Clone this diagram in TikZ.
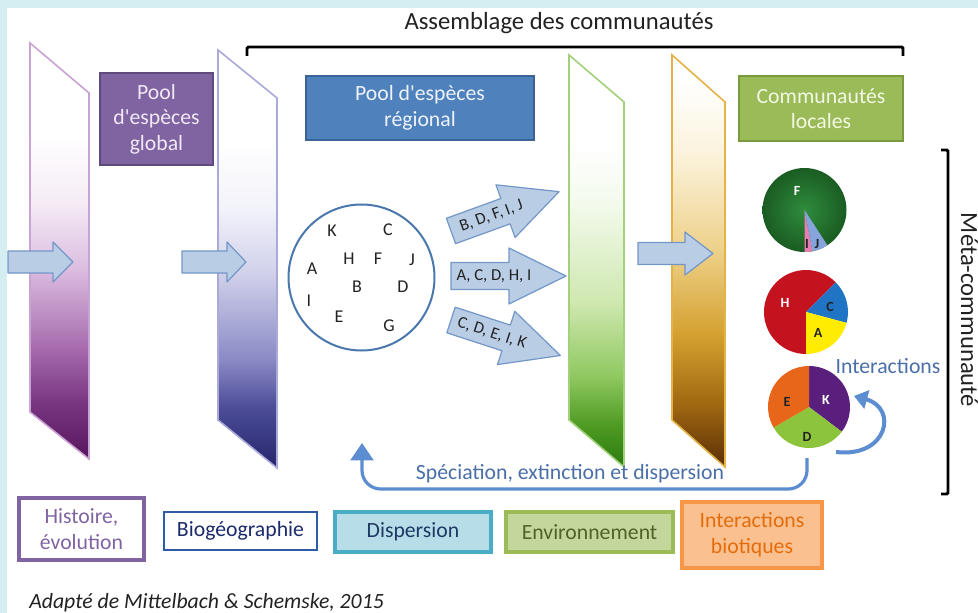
\documentclass[tikz,border=0pt]{standalone}
\usepackage{fontspec}
\setmainfont{Carlito}
\usepackage{tikz}
\usetikzlibrary{arrows.meta}

% couleurs
\definecolor{fondCyan}{HTML}{D5EEF2}
\definecolor{violet1}{HTML}{58155E}
\definecolor{violet2}{HTML}{7A3882}
\definecolor{violet3}{HTML}{A468AB}
\definecolor{violet4}{HTML}{DDBEE1}
\definecolor{violet5}{HTML}{F5ECF6}
\definecolor{violetTrait}{HTML}{C9A3D2}
\definecolor{bleu1}{HTML}{25266C}
\definecolor{bleu2}{HTML}{4A4A96}
\definecolor{bleu3}{HTML}{8A8AC6}
\definecolor{bleu4}{HTML}{CFCFEA}
\definecolor{bleu5}{HTML}{F2F2FA}
\definecolor{bleuTrait}{HTML}{A9A9DA}
\definecolor{vert1}{HTML}{2A7A10}
\definecolor{vert2}{HTML}{4E9A22}
\definecolor{vert3}{HTML}{8FC860}
\definecolor{vert4}{HTML}{CFE8B0}
\definecolor{vert5}{HTML}{F3FAEC}
\definecolor{vertTrait}{HTML}{A3D07A}
\definecolor{or1}{HTML}{5C2E05}
\definecolor{or2}{HTML}{A26B12}
\definecolor{or3}{HTML}{D4A030}
\definecolor{or4}{HTML}{EDD087}
\definecolor{or5}{HTML}{FBF3DC}
\definecolor{orTrait}{HTML}{E3B445}
\definecolor{flecheFond}{HTML}{B9CDE5}
\definecolor{flecheTrait}{HTML}{7396C8}
\definecolor{cercleTrait}{HTML}{4A78AE}
\definecolor{bleuLien}{HTML}{5B8DD0}
\definecolor{bleuTexte}{HTML}{4A6FA8}
\definecolor{texteFonce}{HTML}{222222}
\definecolor{poolGFond}{HTML}{8064A2}
\definecolor{poolGTrait}{HTML}{5E4A7C}
\definecolor{poolGTexte}{HTML}{F1E8F6}
\definecolor{poolRFond}{HTML}{4F81BD}
\definecolor{poolRTrait}{HTML}{3A6496}
\definecolor{poolRTexte}{HTML}{EEF3FA}
\definecolor{commFond}{HTML}{9BBB59}
\definecolor{commTrait}{HTML}{7A9A3E}
\definecolor{commTexte}{HTML}{F3F8E4}
\definecolor{vertPieC}{HTML}{2F8C3C}
\definecolor{vertPieF}{HTML}{1A5C22}
\definecolor{rosePie}{HTML}{E77DB0}
\definecolor{bleuPieA}{HTML}{86A4DC}
\definecolor{rougePie}{HTML}{C5121F}
\definecolor{bleuPieB}{HTML}{1F75C4}
\definecolor{jaunePie}{HTML}{FFEC00}
\definecolor{violetPie}{HTML}{5A1F7D}
\definecolor{vertPie}{HTML}{8CC43C}
\definecolor{orangePie}{HTML}{E8661A}
\definecolor{histTrait}{HTML}{8064A2}
\definecolor{bioTrait}{HTML}{2F5AA6}
\definecolor{bioTexte}{HTML}{1C2B6B}
\definecolor{dispFond}{HTML}{B7DEE8}
\definecolor{dispTrait}{HTML}{4BACC6}
\definecolor{dispTexte}{HTML}{1F3864}
\definecolor{envFond}{HTML}{C3D69B}
\definecolor{envTrait}{HTML}{9BBB59}
\definecolor{envTexte}{HTML}{4F6228}
\definecolor{intFond}{HTML}{FAC090}
\definecolor{intTrait}{HTML}{F79646}
\definecolor{intTexte}{HTML}{E46C0A}

% degrades des filtres
\pgfdeclareverticalshading{panViolet}{100bp}{color(0bp)=(violet1); color(25bp)=(violet1); color(32bp)=(violet2); color(38bp)=(violet3); color(48bp)=(violet4); color(56bp)=(violet5); color(64bp)=(white); color(100bp)=(white)}
\pgfdeclareverticalshading{panBleu}{100bp}{color(0bp)=(bleu1); color(25bp)=(bleu1); color(32bp)=(bleu2); color(38bp)=(bleu3); color(48bp)=(bleu4); color(56bp)=(bleu5); color(64bp)=(white); color(100bp)=(white)}
\pgfdeclareverticalshading{panVert}{100bp}{color(0bp)=(vert1); color(25bp)=(vert1); color(30bp)=(vert2); color(36bp)=(vert3); color(45bp)=(vert4); color(57bp)=(vert5); color(64bp)=(white); color(100bp)=(white)}
\pgfdeclareverticalshading{panOr}{100bp}{color(0bp)=(or1); color(25bp)=(or1); color(33bp)=(or2); color(41bp)=(or3); color(51bp)=(or4); color(63bp)=(or5); color(72bp)=(white); color(100bp)=(white)}

\newcommand\policeGrande{\fontsize{18.5}{22}\selectfont}
\newcommand\policeMoyenne{\fontsize{16.3}{19.2}\selectfont}

\tikzset{
    crochet/.style={line width=2.2pt, rounded corners=1pt},
    titre/.style={font=\policeGrande, text=texteFonce},
    boite/.style={line width=1.1pt, align=center, font=\policeMoyenne, inner sep=0pt},
    legende/.style={line width=2.6pt, align=center, font=\policeMoyenne, inner sep=0pt},
    fleche/.style={fill=flecheFond, draw=flecheTrait, line width=0.9pt, line join=round},
    texteFleche/.style={font=\fontsize{12.5}{14}\selectfont, text=texteFonce, inner sep=0pt},
    espece/.style={font=\fontsize{13.5}{15}\selectfont, text=texteFonce, inner sep=0pt},
    etiquette/.style={font=\fontsize{10.5}{12}\selectfont\bfseries, inner sep=0pt},
    texteBleu/.style={font=\policeMoyenne, text=bleuTexte},
    lien/.style={draw=bleuLien}
}

\begin{document}
\begin{tikzpicture}[x=0.75pt, y=-0.75pt]
\useasboundingbox (0,0) rectangle (978,613);
% fond
\fill[fondCyan] (0,0) rectangle (978,613);
\fill[white] (7,8) rectangle (978,613);

% filtres
\foreach \xa/\xb/\ya/\yb/\yc/\yd/\nuance/\trait in {30/89/43/93/412/459/panViolet/violetTrait, 218/277/50/98/420/468/panBleu/bleuTrait, 569/624/55/102/420/467/panVert/vertTrait, 672/725/55/102/420/467/panOr/orTrait} {
    \shadedraw[shading=\nuance, draw=\trait, line width=1.2pt] (\xa,\ya) -- (\xb,\yb) -- (\xb,\yd) -- (\xa,\yc) -- cycle;
}

% assemblage des communautes
\draw[crochet] (247,56) -- (247,47) -- (903,47) -- (903,56);
\node[titre, anchor=base] (assemblage) at (559,30) {Assemblage des communautés};

% boites du haut
\node[boite, fill=poolGFond, draw=poolGTrait, text=poolGTexte, minimum width=84.8pt, minimum height=69pt] (poolGlobal) at (156.5,119) {Pool\\d\textquotesingle espèces\\global};
\node[boite, fill=poolRFond, draw=poolRTrait, text=poolRTexte, minimum width=171pt, minimum height=48pt] (poolRegional) at (420,108) {Pool d\textquotesingle espèces\\régional};
\node[boite, fill=commFond, draw=commTrait, text=commTexte, minimum width=123pt, minimum height=48.8pt] (commLocales) at (821,108.5) {Communautés\\locales};

% fleches entre les filtres
\foreach \xq/\yq/\base/\bout/\demi in {8/262/45/65/20, 182/262/45/64/20, 638/253.5/47/75/21.5} {
    \begin{scope}[shift={(\xq,\yq)}]
        \draw[fleche] (0,-11) -- (\base,-11) -- (\base,-\demi) -- (\bout,0) -- (\base,\demi) -- (\base,11) -- (0,11) -- cycle;
    \end{scope}
}

% pool regional
\node[circle, draw=cercleTrait, line width=1.5pt, minimum size=109.5pt, inner sep=0pt] (pool) at (361.5,277.5) {};
\foreach \lettre/\xl/\yl in {K/332/231, C/388/230, H/349/259, F/378/259, J/412/260, A/312/269, B/357/287, D/403/287, I/309/301, E/339/317, G/389/326} {
    \node[espece] (esp\lettre) at (\xl,\yl) {\lettre};
}

% listes d'especes
\foreach \ang/\yq/\txt [count=\i] in {20/231/{B, D, F, I, J}, 0/276/{A, C, D, H, I}, -18/320/{C, D, E, I, K}} {
    \begin{scope}[shift={(451,\yq)}, rotate=\ang]
        \draw[fleche] (0,-13.5) -- (58,-13.5) -- (58,-28) -- (115,0) -- (58,28) -- (58,13.5) -- (0,13.5) -- cycle;
        \node[texteFleche, rotate=\ang] (liste\i) at (43,0) {\txt};
    \end{scope}
}

% communautes locales
\coordinate (pie1) at (804.5,210);
\coordinate (pie2) at (806,312);
\coordinate (pie3) at (809,407);
\shade[inner color=vertPieC, outer color=vertPieF] (pie1) circle (42);
\fill[rosePie] (pie1) -- ++(-270:42) arc[start angle=-270, end angle=-281, radius=42] -- cycle;
\fill[bleuPieA] (pie1) -- ++(-281:42) arc[start angle=-281, end angle=-303, radius=42] -- cycle;
\fill[rougePie] (pie2) -- ++(-45:42) arc[start angle=-45, end angle=-270, radius=42] -- cycle;
\fill[bleuPieB] (pie2) -- ++(15:42) arc[start angle=15, end angle=-45, radius=42] -- cycle;
\fill[jaunePie] (pie2) -- ++(90:42) arc[start angle=90, end angle=15, radius=42] -- cycle;
\fill[violetPie] (pie3) -- ++(37:41) arc[start angle=37, end angle=-90, radius=41] -- cycle;
\fill[vertPie] (pie3) -- ++(-210:41) arc[start angle=-210, end angle=-323, radius=41] -- cycle;
\fill[orangePie] (pie3) -- ++(-90:41) arc[start angle=-90, end angle=-210, radius=41] -- cycle;
\foreach \lettre/\xl/\yl/\coul [count=\i] in {F/797/191/white, I/807/244/texteFonce, J/817/244/texteFonce, H/785/303/white, C/830/307/texteFonce, A/818/333/texteFonce, E/787/402/texteFonce, K/826/400/white, D/807/437/texteFonce} {
    \node[etiquette, text=\coul] (part\i) at (\xl,\yl) {\lettre};
}

% interactions
\node[texteBleu] (interactions) at (888,366) {Interactions};
\coordinate (intDepart) at (836,452);
\coordinate (intBout) at (854,396);
\draw[lien, line width=3pt, -{Triangle[length=10pt,width=14pt]}] (intDepart) .. controls (888,458) and (898,408) .. (intBout);

% speciation, extinction et dispersion
\coordinate (speDepart) at (807,458);
\coordinate (speBout) at (362,443);
\draw[lien, line width=2.4pt, rounded corners=14pt, -{Triangle[length=13pt,width=17pt]}] (speDepart) -- (807,489) -- (362,489) -- (speBout);
\node[texteBleu] (speciation) at (570,474) {Spéciation, extinction et dispersion};

% meta-communaute
\draw[crochet] (941,150) -- (948,150) -- (948,494) -- (941,494);
\node[titre, rotate=-90, anchor=base] (meta) at (961,310) {Méta-communauté};

% legende
\node[legende, draw=histTrait, text=histTrait, minimum width=93.8pt, minimum height=46.5pt] (histoire) at (81.5,529) {Histoire,\\évolution};
\node[legende, draw=bioTrait, text=bioTexte, line width=1.8pt, minimum width=114.8pt, minimum height=28.5pt] (bio) at (240.5,531) {Biogéographie};
\node[legende, fill=dispFond, draw=dispTrait, text=dispTexte, minimum width=117pt, minimum height=30pt] (dispersion) at (413,532) {Dispersion};
\node[legende, fill=envFond, draw=envTrait, text=envTexte, minimum width=125.3pt, minimum height=30pt] (environnement) at (589.5,532) {Environnement};
\node[legende, fill=intFond, draw=intTrait, text=intTexte, minimum width=105pt, minimum height=49.5pt] (biotiques) at (752,535) {Interactions\\biotiques};

% source
\node[font=\policeMoyenne\itshape, text=texteFonce, anchor=west, inner sep=0pt] (source) at (29,603) {Adapté de Mittelbach \& Schemske, 2015};
\end{tikzpicture}
\end{document}
